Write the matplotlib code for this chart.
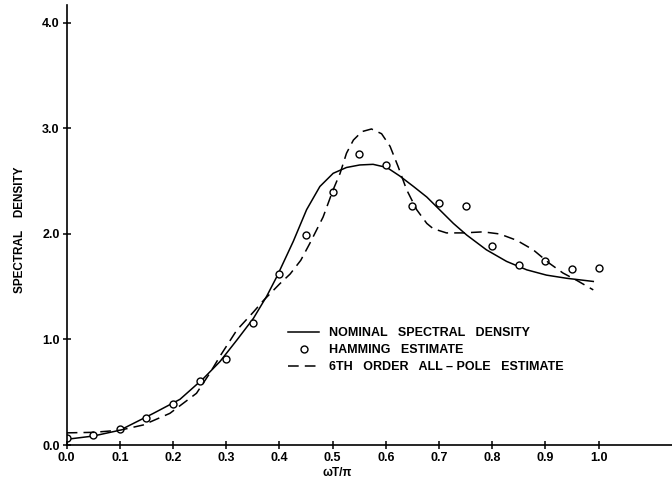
import numpy as np
import matplotlib
matplotlib.use("Agg")
import matplotlib.pyplot as plt

# values, x is omega*T/pi
nominal_x = [0.0, 0.05, 0.1, 0.163, 0.213, 0.257, 0.288, 0.32, 0.351, 0.376,
             0.395, 0.414, 0.426, 0.451, 0.476, 0.501, 0.526, 0.551, 0.576,
             0.602, 0.626, 0.652, 0.677, 0.695, 0.727, 0.752, 0.789, 0.827,
             0.865, 0.902, 0.94, 0.99]
nominal_y = [0.054, 0.085, 0.14, 0.30, 0.433, 0.63, 0.79, 0.995, 1.20, 1.41,
             1.595, 1.80, 1.93, 2.23, 2.45, 2.575, 2.63, 2.654, 2.66,
             2.63, 2.55, 2.45, 2.35, 2.26, 2.10, 1.99, 1.85, 1.74,
             1.66, 1.61, 1.58, 1.55]

allpole_x = [0.0, 0.05, 0.1, 0.144, 0.194, 0.244, 0.269, 0.288, 0.32, 0.351,
             0.37, 0.401, 0.42, 0.44, 0.457, 0.482, 0.501, 0.514, 0.526, 0.539,
             0.555, 0.573, 0.592, 0.608, 0.623, 0.639, 0.658, 0.677, 0.689,
             0.714, 0.745, 0.783, 0.814, 0.846, 0.877, 0.908, 0.933, 0.959, 0.99]
allpole_y = [0.115, 0.12, 0.14, 0.19, 0.30, 0.49, 0.68, 0.84, 1.09, 1.26,
             1.37, 1.53, 1.62, 1.75, 1.91, 2.16, 2.42, 2.575, 2.765, 2.89,
             2.97, 2.995, 2.95, 2.83, 2.64, 2.42, 2.23, 2.10, 2.05,
             2.01, 2.01, 2.02, 2.0, 1.94, 1.85, 1.72, 1.63, 1.56, 1.47]

hamming_x = [0.0, 0.05, 0.1, 0.15, 0.2, 0.25, 0.3, 0.35, 0.4, 0.45, 0.5,
             0.55, 0.6, 0.65, 0.7, 0.75, 0.8, 0.85, 0.9, 0.95, 1.0]
hamming_y = [0.07, 0.095, 0.15, 0.253, 0.39, 0.61, 0.815, 1.16, 1.62, 1.99, 2.40,
             2.76, 2.65, 2.265, 2.29, 2.265, 1.89, 1.71, 1.745, 1.67, 1.68]

x_ticks = [0.0, 0.1, 0.2, 0.3, 0.4, 0.5, 0.6, 0.7, 0.8, 0.9, 1.0]
y_ticks = [0.0, 1.0, 2.0, 3.0, 4.0]

plt.rcParams['font.family'] = ['Liberation Sans', 'DejaVu Sans']
plt.rcParams['font.weight'] = 'bold'

fig = plt.figure(figsize=(6.72, 4.84), dpi=100)
ax = fig.add_axes([66.7 / 672, 39 / 484, 1 - 66.7 / 672, 440 / 484])

ax.plot(nominal_x, nominal_y, color='black', lw=1.1,
        label='NOMINAL   SPECTRAL   DENSITY')
ax.plot(hamming_x, hamming_y, 'o', color='black', mfc='white', ms=5, mew=1.0,
        label='HAMMING   ESTIMATE')
ax.plot(allpole_x, allpole_y, color='black', lw=1.1, dashes=(7, 4),
        label='6TH   ORDER   ALL \u2013 POLE   ESTIMATE')

ax.set_xlim(0, 1.138)
ax.set_ylim(0, 4.17)
ax.spines['top'].set_visible(False)
ax.spines['right'].set_visible(False)
ax.spines['left'].set_linewidth(1.2)
ax.spines['bottom'].set_linewidth(1.2)

ax.set_xticks(x_ticks)
ax.set_xticklabels(['%.1f' % v for v in x_ticks])
ax.set_yticks(y_ticks)
ax.set_yticklabels(['%.1f' % v for v in y_ticks])
ax.tick_params(direction='inout', length=6, width=1.1, labelsize=9, pad=2)

fig.text(20 / 672, 1 - 230 / 484, 'SPECTRAL    DENSITY', rotation=90,
         ha='center', va='center', fontsize=8.5)
fig.text(337 / 672, 1 - 473 / 484, '\u03c9T/\u03c0', ha='center', va='center',
         fontsize=8.5)

ax.legend(loc='upper left', bbox_to_anchor=(288 / 672, 1 - 327 / 484),
          bbox_transform=fig.transFigure, frameon=False, fontsize=9,
          borderpad=0, borderaxespad=0, handlelength=2.5, handletextpad=0.8,
          labelspacing=0.42)

fig.savefig('out.png', dpi=100)
